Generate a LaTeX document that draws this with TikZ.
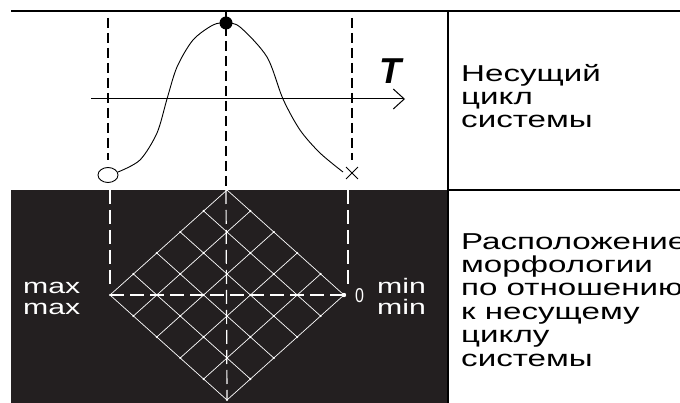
\documentclass[tikz,border=0pt]{standalone}
\usepackage{fontspec}
\setmainfont{Liberation Sans}
\newfontfamily\widefont[FakeStretch=1.44]{Liberation Sans}
\newfontfamily\narrowfont[FakeStretch=0.8]{Liberation Sans}
\usetikzlibrary{arrows.meta,positioning,shapes.geometric,shapes.misc}
\definecolor{panelblack}{RGB}{35,31,32}

\begin{document}
\begin{tikzpicture}[
    x=1pt, y=-1pt,
    caption/.style={font=\widefont\fontsize{23}{23}\selectfont, align=left, anchor=north west, inner sep=0pt},
    extreme/.style={font=\widefont\fontsize{21}{21}\selectfont, text=white, align=left, anchor=west, inner sep=0pt},
    frame/.style={line width=1.2pt},
    guide/.style={dash pattern=on 10pt off 5pt, line width=1.2pt},
    whiteguide/.style={white, dash pattern=on 14pt off 6pt, line width=1.2pt},
    mesh/.style={white, line width=0.7pt},
    arrow/.style={-{Straight Barb[length=11pt,width=20pt]}, line width=1pt}
]
\useasboundingbox (0,0) rectangle (680,403);
\fill[panelblack] (11,190) rectangle (448,403);
\draw[frame] (11,11) -- (680,11);
\draw[frame] (448,11) -- (448,403);
\draw[frame] (448,190) -- (680,190);

\coordinate (axl) at (91,99);
\coordinate (axr) at (405,99);
\draw[arrow] (axl) -- (axr);
\node[font=\bfseries\itshape\fontsize{36}{36}\selectfont, inner sep=0pt] (tlabel) at (390,71) {T};

\draw[line width=0.9pt] plot[smooth] coordinates {(118,172) (140,160) (157,133) (167,99) (177,67) (193,40) (213,25) (226,23) (240,27) (267,57) (283,99) (300,130) (320,153) (343,172)};
\node[circle, fill, minimum size=13pt, inner sep=0pt] (peak) at (226,23) {};
\node[ellipse, draw, fill=white, line width=0.9pt, minimum width=20pt, minimum height=15pt, inner sep=0pt] (start) at (108,175) {};
\node[cross out, draw, line width=0.9pt, minimum size=11pt, inner sep=0pt] (stop) at (352,173) {};

\coordinate (ltop) at (108,18);
\coordinate (rtop) at (352,18);
\coordinate (mtop) at (226,11);
\coordinate (mmid) at (226,190);
\draw[guide] (ltop) -- (108,160);
\draw[guide] (rtop) -- (352,160);
\draw[guide] (mtop) -- (mmid);

\coordinate (L) at (110,295);
\coordinate (T) at (227,190);
\coordinate (R) at (344,295);
\coordinate (B) at (227,400);
\begin{scope}[shift={(L)}, x={(23.4pt,21pt)}, y={(23.4pt,-21pt)}]
  \foreach \i in {0,...,5} {
    \draw[mesh] (\i,0) -- (\i,5);
    \draw[mesh] (0,\i) -- (5,\i);
  }
  \foreach \u in {0,...,5}
    \foreach \v in {0,...,5}
      \fill[white] (\u,\v) circle[radius=1.2pt];
\end{scope}
\draw[whiteguide] (L) -- (R);
\draw[whiteguide] (mmid) -- (B);
\draw[whiteguide] (110,190) -- (110,288);
\draw[whiteguide] (348,190) -- (348,288);
\fill[white] (R) circle[radius=2.2pt];

\node[extreme] (maxlab) at (23,298) {max\\max};
\node[extreme] (minlab) at (377,296) {min\\min};
\node[font=\narrowfont\fontsize{20}{20}\selectfont, text=white, anchor=base west, inner sep=0pt] (zero) at (355,302) {0};

\node[caption] (carrier) at (461,64) {Несущий\\цикл\\системы};
\node[caption, font=\widefont\fontsize{23}{23.4}\selectfont] (placement) at (461,233) {Расположение\\морфологии\\по отношению\\к несущему\\циклу\\системы};
\end{tikzpicture}
\end{document}
